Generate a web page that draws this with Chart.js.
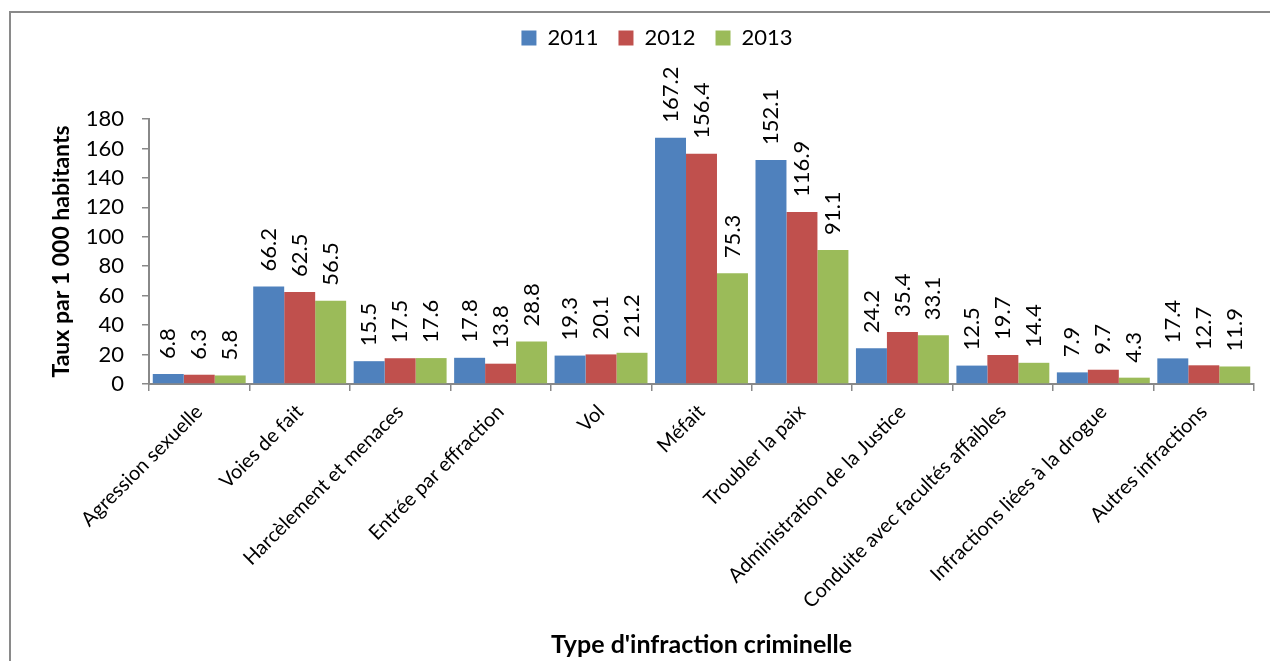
<!DOCTYPE html>
<html>
  <head>
    <meta charset="utf-8">
    <title>Taux par type d'infraction</title>
    <script src="https://cdn.jsdelivr.net/npm/chart.js@4.4.0/dist/chart.umd.min.js"></script>
    <style>
        body {
            margin: 0;
            background: #fff;
        }
        .chart-wrapper {
            position: relative;
            width: 1270px;
            height: 661px;
        }
        .frame {
            position: absolute;
            left: 9px;
            top: 11px;
            right: 0;
            bottom: 0;
            border-left: 2px solid #8a8a8a;
            border-top: 2px solid #8a8a8a;
        }
        canvas {
            position: absolute;
            left: 0;
            top: 0;
        }
    </style>
</head>
<body>
    <div class="chart-wrapper">
        <div class="frame"></div>
        <canvas id="myChart" width="1270" height="661"></canvas>
    </div>
    <script>
        // data
        const categories = [
            "Agression sexuelle",
            "Voies de fait",
            "Harcèlement et menaces",
            "Entrée par effraction",
            "Vol",
            "Méfait",
            "Troubler la paix",
            "Administration de la Justice",
            "Conduite avec facultés affaibles",
            "Infractions liées à la drogue",
            "Autres infractions"
        ];
        const years = ["2011", "2012", "2013"];
        const values2011 = [6.8, 66.2, 15.5, 17.8, 19.3, 167.2, 152.1, 24.2, 12.5, 7.9, 17.4];
        const values2012 = [6.3, 62.5, 17.5, 13.8, 20.1, 156.4, 116.9, 35.4, 19.7, 9.7, 12.7];
        const values2013 = [5.8, 56.5, 17.6, 28.8, 21.2, 75.3, 91.1, 33.1, 14.4, 4.3, 11.9];
        const colors = ["#4F81BD", "#C0504D", "#9BBB59"];

        const fontFamily = "Lato, 'Noto Sans', sans-serif";

        // value labels above each bar, rotated
        const valueLabels = {
            id: 'valueLabels',
            afterDatasetsDraw(chart) {
                const ctx = chart.ctx;
                ctx.save();
                ctx.font = "22px " + fontFamily;
                ctx.fillStyle = "#000";
                ctx.textAlign = "left";
                ctx.textBaseline = "middle";
                chart.data.datasets.forEach((ds, i) => {
                    chart.getDatasetMeta(i).data.forEach((bar, j) => {
                        ctx.save();
                        ctx.translate(bar.x, bar.y - 15);
                        ctx.rotate(-Math.PI / 2);
                        ctx.fillText(ds.data[j].toFixed(1), 0, 0);
                        ctx.restore();
                    });
                });
                ctx.restore();
            }
        };

        // extra room under the legend, and legend nudged right
        const legendSpace = {
            id: 'legendSpace',
            beforeInit(chart) {
                const origFit = chart.legend.fit;
                chart.legend.fit = function () {
                    origFit.bind(chart.legend)();
                    this.height += 60;
                };
            },
            afterLayout(chart) {
                chart.legend.left += 30;
                chart.legend.right += 30;
            }
        };

        const ctx = document.getElementById('myChart').getContext('2d');
        const chart = new Chart(ctx, {
            type: 'bar',
            data: {
                labels: categories,
                datasets: [
                    { label: years[0], data: values2011, backgroundColor: colors[0] },
                    { label: years[1], data: values2012, backgroundColor: colors[1] },
                    { label: years[2], data: values2013, backgroundColor: colors[2] }
                ]
            },
            options: {
                responsive: false,
                animation: false,
                devicePixelRatio: 1,
                barPercentage: 1.0,
                categoryPercentage: 0.925,
                layout: {
                    padding: { left: 0, right: 16, top: 7, bottom: 1 }
                },
                plugins: {
                    legend: {
                        position: 'top',
                        labels: {
                            boxWidth: 15,
                            boxHeight: 15,
                            padding: 20,
                            color: '#000',
                            font: { family: fontFamily, size: 22 }
                        }
                    },
                    tooltip: { enabled: false }
                },
                scales: {
                    x: {
                        afterFit(scale) { scale.height = 276; },
                        grid: {
                            display: true,
                            drawOnChartArea: false,
                            drawTicks: true,
                            tickLength: 7,
                            offset: true,
                            color: '#888',
                            lineWidth: 1.5
                        },
                        border: { color: '#888', width: 2 },
                        ticks: {
                            minRotation: 45,
                            maxRotation: 45,
                            autoSkip: false,
                            padding: 9,
                            color: '#000',
                            font: { family: fontFamily, size: 20 }
                        },
                        title: {
                            display: true,
                            text: "Type d'infraction criminelle",
                            color: '#000',
                            padding: { top: 0, bottom: 0 },
                            font: { family: fontFamily, size: 25, weight: 'bold' }
                        }
                    },
                    y: {
                        min: 0,
                        max: 180,
                        afterFit(scale) { scale.width = 149; },
                        grid: {
                            drawOnChartArea: false,
                            drawTicks: true,
                            tickLength: 7,
                            color: '#888',
                            lineWidth: 1.5
                        },
                        border: { color: '#888', width: 2 },
                        ticks: {
                            stepSize: 20,
                            padding: 18,
                            color: '#000',
                            font: { family: fontFamily, size: 22 }
                        },
                        title: {
                            display: true,
                            text: 'Taux par 1 000 habitants',
                            color: '#000',
                            padding: { top: 48, bottom: 0 },
                            font: { family: fontFamily, size: 23, weight: 'bold' }
                        }
                    }
                }
            },
            plugins: [valueLabels, legendSpace]
        });
    </script>
  </body>
</html>
